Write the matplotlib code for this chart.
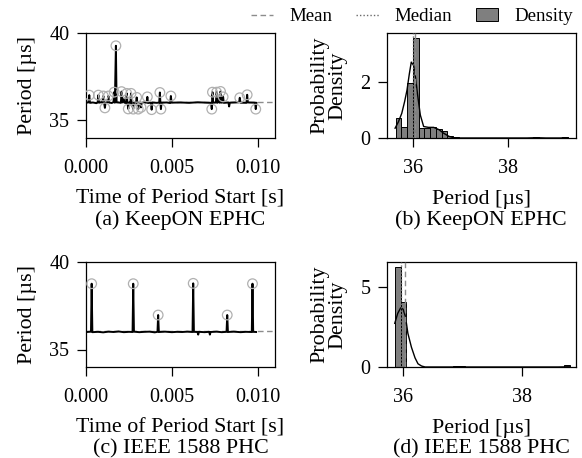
import numpy as np
import matplotlib
matplotlib.use("Agg")
import matplotlib.pyplot as plt
from matplotlib.lines import Line2D
from matplotlib.patches import Patch

plt.rcParams['font.family'] = ['Liberation Serif', 'DejaVu Serif']
plt.rcParams['mathtext.fontset'] = 'stix'

# ---------------- data ----------------
# (a) KeepON EPHC: time of period start [ms] and period [us]
time_a_ms = [0.02, 0.15, 0.19, 0.23, 0.40, 0.60, 0.68, 0.72, 0.76, 0.90, 0.97, 1.01, 1.05,
             1.10, 1.14, 1.26, 1.30, 1.34, 1.50, 1.60, 1.64, 1.68, 1.74, 1.78, 1.90, 2.03,
             2.07, 2.11, 2.20, 2.24, 2.33, 2.37, 2.41, 2.46, 2.50, 2.58, 2.62, 2.66, 2.75,
             2.79, 2.86, 2.91, 2.95, 2.99, 3.04, 3.08, 3.16, 3.20, 3.24, 3.40, 3.53, 3.57,
             3.61, 3.78, 3.82, 3.86, 4.10, 4.26, 4.30, 4.33, 4.36, 4.40, 4.70, 4.90, 4.94,
             4.98, 5.50, 6.00, 6.50, 7.00, 7.28, 7.32, 7.36, 7.40, 7.56, 7.60, 7.64, 7.72,
             7.76, 7.79, 7.83, 7.87, 7.94, 7.98, 8.02, 8.29, 8.33, 8.37, 8.91, 8.95, 8.99,
             9.34, 9.38, 9.42, 9.84, 9.88, 9.92]
period_a = [36.02, 36.04, 36.45, 36.01, 36.03, 35.99, 36.03, 36.45, 36.02, 36.05, 36.00, 36.40, 36.03,
            35.72, 36.02, 36.04, 36.40, 36.03, 36.00, 36.05, 36.62, 36.02, 39.27, 36.04, 36.03, 36.01,
            36.65, 36.03, 36.22, 36.02, 36.00, 36.55, 36.02, 35.66, 36.03, 36.01, 36.55, 35.98, 35.65,
            36.02, 36.05, 36.02, 36.32, 36.00, 35.65, 36.02, 36.03, 35.75, 36.01, 36.03, 36.02, 36.35,
            36.00, 36.02, 35.62, 36.03, 36.01, 36.02, 36.60, 36.01, 35.65, 36.02, 36.03, 36.00, 36.40,
            36.02, 36.03, 36.01, 36.04, 36.02, 36.01, 35.65, 36.62, 36.02, 36.03, 36.62, 36.01, 36.25,
            36.02, 36.02, 36.66, 36.02, 36.03, 36.35, 36.01, 36.03, 35.80, 36.02, 36.04, 36.30, 36.02,
            36.01, 36.47, 36.03, 36.02, 35.65, 36.01]

# (c) IEEE 1588 PHC
time_c_ms = [0.05, 0.29, 0.33, 0.37, 0.70, 1.00, 1.30, 1.60, 1.90, 2.20, 2.50, 2.71, 2.75, 2.79,
             3.10, 3.40, 3.70, 4.00, 4.16, 4.20, 4.24, 4.60, 5.00, 5.30, 5.60, 5.90, 6.20, 6.24,
             6.28, 6.49, 6.53, 6.57, 6.90, 7.17, 7.21, 7.25, 7.60, 7.90, 8.18, 8.22, 8.26, 8.60,
             9.00, 9.30, 9.65, 9.69, 9.73, 9.90]
period_c = [36.00, 36.02, 38.76, 35.99, 36.01, 35.98, 36.02, 36.00, 36.03, 35.99, 36.01, 36.00, 38.76, 36.02,
            35.99, 36.01, 36.02, 35.98, 36.01, 36.97, 36.00, 36.02, 35.99, 36.01, 36.00, 36.02, 36.00, 38.78,
            36.01, 36.00, 35.85, 36.01, 35.99, 36.01, 35.85, 36.00, 36.02, 35.99, 36.01, 36.97, 36.00, 36.02,
            35.99, 36.01, 36.00, 38.76, 36.01, 36.00]

mean_a, median_a = 36.05, 36.01
mean_c, median_c = 36.04, 35.96

# (b) histogram of (a): bin edges start / width and density heights
bin_start_b, bin_width_b = 35.64, 0.1207
density_b = [0.71, 0.41, 1.98, 3.57, 0.35, 0.35, 0.38, 0.33, 0.24, 0.08,
             0.03, 0, 0, 0, 0, 0, 0, 0, 0, 0,
             0, 0, 0, 0, 0.03, 0, 0, 0, 0, 0.03]
kde_x_b = [35.63, 35.70, 35.77, 35.83, 35.88, 35.93, 35.97, 36.02, 36.06, 36.09, 36.13, 36.16,
           36.23, 36.33, 36.44, 36.55, 36.65, 36.76, 36.86, 36.95, 38.40, 38.60, 38.80, 39.10, 39.20, 39.26]
kde_y_b = [0.35, 0.58, 0.88, 1.30, 1.71, 2.30, 2.71, 2.59, 2.15, 1.71, 1.20, 0.82,
           0.41, 0.38, 0.38, 0.30, 0.17, 0.06, 0.01, 0.0, 0.0, 0.01, 0.0, 0.0, 0.01, 0.01]

# (d) histogram of (c)
bin_start_d, bin_width_d = 35.86, 0.098
density_d = [6.23, 4.06, 0, 0, 0, 0, 0, 0, 0, 0,
             0.037, 0.037, 0, 0, 0, 0, 0, 0, 0, 0,
             0, 0, 0, 0, 0, 0, 0, 0, 0, 0.14]
kde_x_d = [35.86, 35.91, 35.96, 36.00, 36.04, 36.08, 36.14, 36.20, 36.25, 36.31, 36.37, 38.60, 38.75, 38.80]
kde_y_d = [2.72, 3.34, 3.69, 3.60, 3.13, 2.10, 1.23, 0.57, 0.20, 0.06, 0.0, 0.0, 0.01, 0.01]

captions = ["(a) KeepON EPHC", "(b) KeepON EPHC", "(c) IEEE 1588 PHC", "(d) IEEE 1588 PHC"]

# ---------------- style ----------------
LABEL_FS = 15.8
TICK_FS = 14.5
LEG_FS = 13.6
MEAN_C = '#8c8c8c'
MED_C = '#6a6a6a'
BAR_C = '#7f7f7f'
CIRC_C = '#b0b0b0'

fig = plt.figure(figsize=(5.82, 4.58), dpi=100)
W, H = 582, 458
def add_ax(l, t, r, b):
    return fig.add_axes([l / W, 1 - b / H, (r - l) / W, (b - t) / H])

ax_a = add_ax(86, 33, 275, 138)
ax_b = add_ax(387, 33, 575.5, 138)
ax_c = add_ax(86, 262, 275, 367)
ax_d = add_ax(387, 262, 576, 367)

for ax in (ax_a, ax_b, ax_c, ax_d):
    ax.tick_params(direction='out', length=6.5, width=0.9, labelsize=TICK_FS)
    ax.tick_params(axis='x', pad=8.5)
    ax.tick_params(axis='y', pad=5.5)
    for s in ax.spines.values():
        s.set_linewidth(0.9)


def series_panel(ax, t_ms, vals, mean, cap):
    t = np.asarray(t_ms) / 1000.0
    v = np.asarray(vals)
    ax.axhline(mean, color=MEAN_C, ls=(0, (4, 2.5)), lw=1.0, zorder=1)
    ax.plot(t, v, color='black', lw=1.4, zorder=2)
    med = np.median(v)
    mask = np.abs(v - med) > 0.25
    ax.scatter(t[mask], v[mask], s=48, facecolors='none', edgecolors=CIRC_C, linewidths=0.9, zorder=3)
    ax.set_xlim(0, 0.011)
    ax.set_ylim(34, 40)
    ax.set_xticks([0.0, 0.005, 0.010])
    ax.set_xticklabels(['0.000', '0.005', '0.010'])
    ax.set_yticks([35, 40])
    ax.set_ylabel('Period [µs]', fontsize=LABEL_FS, labelpad=9)
    ax.set_xlabel('Time of Period Start [s]\n' + cap, fontsize=LABEL_FS, labelpad=8.5, linespacing=1.1)


def hist_panel(ax, start, width, dens, kx, ky, mean, med, xlim, yticks, ylim, cap):
    n = len(dens)
    lefts = start + width * np.arange(n)
    ax.bar(lefts, dens, width=width, align='edge', color=BAR_C, edgecolor='black', linewidth=0.7, zorder=2)
    ax.plot(kx, ky, color='black', lw=1.0, zorder=3)
    ax.axvline(mean, color=MEAN_C, ls=(0, (4, 2.5)), lw=1.0, zorder=4)
    ax.axvline(med, color=MED_C, ls=(0, (1, 1.5)), lw=1.0, zorder=4)
    ax.set_xlim(*xlim)
    ax.set_ylim(*ylim)
    ax.set_xticks([36, 38])
    ax.set_yticks(yticks)
    ax.set_ylabel('Probability\nDensity', fontsize=LABEL_FS, labelpad=9, linespacing=0.95)
    ax.set_xlabel('Period [µs]\n' + cap, fontsize=LABEL_FS, labelpad=8.5, linespacing=1.1)


series_panel(ax_a, time_a_ms, period_a, mean_a, captions[0])
series_panel(ax_c, time_c_ms, period_c, mean_c, captions[2])
hist_panel(ax_b, bin_start_b, bin_width_b, density_b, kde_x_b, kde_y_b, mean_a, median_a,
           (35.46, 39.42), [0, 2], (0, 3.75), captions[1])
hist_panel(ax_d, bin_start_d, bin_width_d, density_d, kde_x_d, kde_y_d, mean_c, median_c,
           (35.73, 38.90), [0, 5], (0, 6.54), captions[3])

handles = [Line2D([], [], color=MEAN_C, ls=(0, (4, 2.5)), lw=1.0),
           Line2D([], [], color=MED_C, ls=(0, (1, 1.5)), lw=1.0),
           Patch(facecolor=BAR_C, edgecolor='black', linewidth=0.7)]
fig.legend(handles, ['Mean', 'Median', 'Density'], loc='upper right', bbox_to_anchor=(0.985, 0.982),
           ncol=3, frameon=False, fontsize=LEG_FS, handlelength=1.2, handletextpad=0.85,
           columnspacing=1.25, borderaxespad=0.0, borderpad=0.0)

fig.savefig('out.png', dpi=100)
